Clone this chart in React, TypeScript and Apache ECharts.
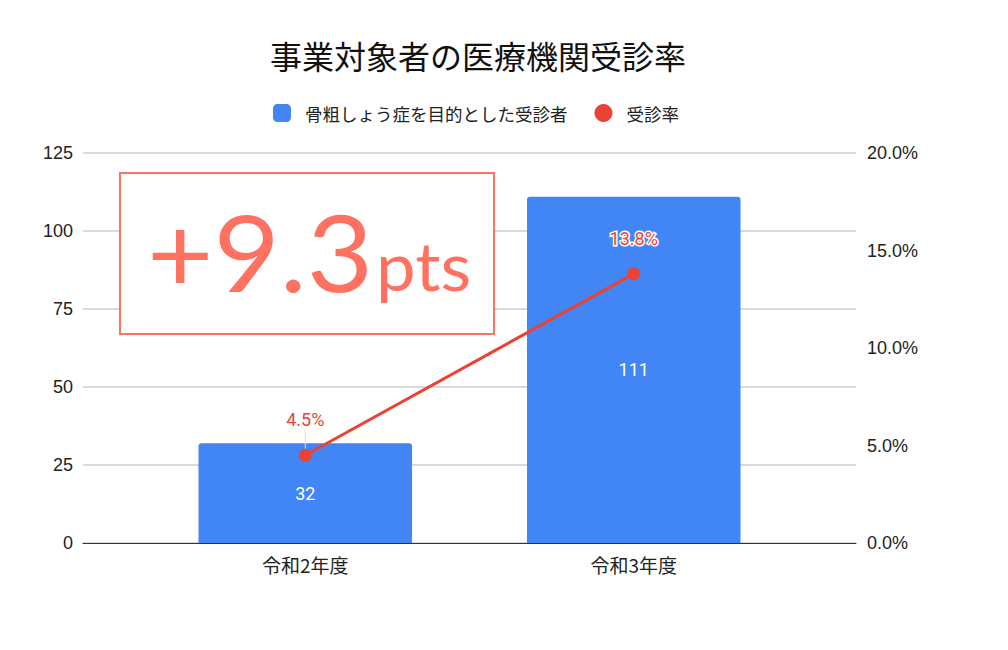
import { useEffect, useRef } from 'react'
import * as echarts from 'echarts'

const titleText = '事業対象者の医療機関受診率'
const categories = ['令和2年度', '令和3年度']
const patientCounts = [32, 111]
const visitRates = [0.045, 0.138]
const barName = '骨粗しょう症を目的とした受診者'
const lineName = '受診率'
const badgeMain = '+9.3'
const badgeUnit = 'pts'

const JP = '"Noto Sans CJK JP", "Noto Sans", sans-serif'
const NUM = '"Liberation Sans", Arial, sans-serif'

export default function App() {
  const chartRef = useRef<HTMLDivElement | null>(null)

  useEffect(() => {
    if (!chartRef.current) {
      return undefined
    }
    const chart = echarts.init(chartRef.current, undefined, { renderer: 'svg' })

    const gridBox = { top: 153, bottom: 107 }
    const pct = (v: number) => `${(v * 100).toFixed(1)}%`

    chart.setOption({
      animation: false,
      backgroundColor: '#ffffff',
      title: {
        text: titleText,
        left: 265,
        top: 34,
        textStyle: { fontFamily: JP, fontSize: 32, fontWeight: 'normal', color: '#111' },
      },
      legend: {
        top: 99,
        left: 268,
        itemGap: 27,
        itemWidth: 18,
        itemHeight: 18,
        textStyle: { fontFamily: JP, fontSize: 17.5, color: '#222', padding: [0, 0, 0, 9] },
        data: [
          { name: barName, icon: 'roundRect' },
          { name: lineName, icon: 'circle' },
        ],
      },
      grid: [
        { left: 83, right: 152, ...gridBox },
        { left: 141, right: 210, ...gridBox },
      ],
      xAxis: [
        {
          type: 'category',
          gridIndex: 0,
          data: categories,
          axisLine: { show: true, lineStyle: { color: '#333', width: 1 } },
          axisTick: { show: false },
          axisLabel: { show: false },
        },
        {
          type: 'category',
          gridIndex: 1,
          data: categories,
          axisLine: { show: false },
          axisTick: { show: false },
          axisLabel: { fontFamily: JP, fontSize: 19, color: '#222', margin: 12 },
        },
      ],
      yAxis: [
        {
          type: 'value',
          gridIndex: 0,
          min: 0,
          max: 125,
          interval: 25,
          axisLine: { show: false },
          axisTick: { show: false },
          axisLabel: { fontFamily: NUM, fontSize: 18, color: '#222', margin: 10 },
          splitLine: { lineStyle: { color: '#cccccc', width: 1.5 } },
        },
        {
          type: 'value',
          gridIndex: 0,
          position: 'right',
          min: 0,
          max: 0.2,
          interval: 0.05,
          axisLine: { show: false },
          axisTick: { show: false },
          axisLabel: { fontFamily: NUM, fontSize: 18, color: '#222', margin: 11, formatter: pct },
          splitLine: { show: false },
        },
        { type: 'value', gridIndex: 1, min: 0, max: 125, show: false },
        { type: 'value', gridIndex: 1, min: 0, max: 0.2, show: false },
      ],
      series: [
        {
          name: barName,
          type: 'bar',
          xAxisIndex: 1,
          yAxisIndex: 2,
          barWidth: '65%',
          data: patientCounts,
          itemStyle: { color: '#4285f4', borderRadius: [3, 3, 0, 0] },
          label: {
            show: true,
            position: 'inside',
            color: '#ffffff',
            fontFamily: 'Roboto, sans-serif',
            fontSize: 18,
          },
        },
        {
          name: lineName,
          type: 'line',
          xAxisIndex: 1,
          yAxisIndex: 3,
          data: visitRates.map((value, i) => ({
            value,
            labelLine: { show: i === 0 },
          })),
          symbol: 'circle',
          symbolSize: 13,
          color: '#ea4335',
          lineStyle: { color: '#ea4335', width: 3 },
          itemStyle: { color: '#ea4335' },
          label: {
            show: true,
            position: 'top',
            distance: 4,
            color: '#ea4335',
            fontFamily: 'Roboto, sans-serif',
            fontSize: 18,
            textBorderColor: '#ffffff',
            textBorderWidth: 3,
            formatter: (p: { value: number }) => pct(p.value),
          },
          labelLayout: { dy: -16 },
          labelLine: { show: false, lineStyle: { color: '#dddddd', width: 1 } },
        },
      ],
      graphic: [
        {
          type: 'rect',
          z: 100,
          shape: { x: 120, y: 173, width: 374, height: 161 },
          style: { fill: '#ffffff', stroke: '#ff7262', lineWidth: 2 },
        },
        {
          type: 'text',
          z: 101,
          x: 147,
          y: 251,
          scaleX: 1.08,
          style: {
            text: badgeMain,
            fill: '#ff7262',
            font: '106px Lato, sans-serif',
            textAlign: 'left',
            textVerticalAlign: 'middle',
          },
        },
        {
          type: 'text',
          z: 101,
          x: 376,
          y: 265,
          scaleX: 1.04,
          style: {
            text: badgeUnit,
            fill: '#ff7262',
            font: '68px Lato, sans-serif',
            textAlign: 'left',
            textVerticalAlign: 'middle',
          },
        },
      ],
    })

    return () => {
      chart.dispose()
    }
  }, [])

  return (
    <div
      ref={chartRef}
      style={{ position: 'fixed', left: 0, top: 0, width: 1008, height: 650 }}
    />
  )
}
